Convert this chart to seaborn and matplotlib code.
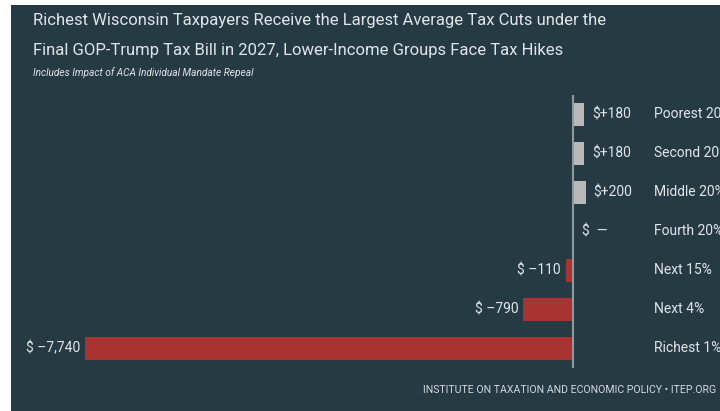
import matplotlib
matplotlib.use("Agg")
import matplotlib.pyplot as plt
import seaborn as sns
import pandas as pd
from matplotlib.patches import Rectangle

categories = ["Poorest 20%", "Second 20%", "Middle 20%", "Fourth 20%", "Next 15%", "Next 4%", "Richest 1%"]
values = [180, 180, 200, 0, -110, -790, -7740]
value_labels = ["$+180", "$+180", "$+200", "$  \u2014", "$ \u2013110", "$ \u2013790", "$ \u20137,740"]
title_lines = ["Richest Wisconsin Taxpayers Receive the Largest Average Tax Cuts under the",
               "Final GOP-Trump Tax Bill in 2027, Lower-Income Groups Face Tax Hikes"]
subtitle = "Includes Impact of ACA Individual Mandate Repeal"
footer = "INSTITUTE ON TAXATION AND ECONOMIC POLICY \u2022 ITEP.ORG"

BG = "#263a44"
RED = "#a83331"
GRAY = "#b9b9b9"
TXT = "#e2e5e7"

sns.set_theme(style="white")
plt.rcParams['font.family'] = ['Roboto', 'DejaVu Sans']

df = pd.DataFrame({"category": categories, "value": values})
colors = [GRAY if v >= 0 else RED for v in values]

fig = plt.figure(figsize=(7.2, 4.11), dpi=100, facecolor="white")
fig.patches.append(Rectangle((11/720, 0), 1 - 11/720, 1 - 5/411, transform=fig.transFigure,
                             facecolor=BG, edgecolor="none", zorder=-10))

ax = fig.add_axes([85/720, 1 - 367.5/411, 635/720, 272.5/411])
ax.set_facecolor("none")
sns.barplot(data=df, x="value", y="category", hue="category", palette=colors,
            legend=False, orient="h", width=0.59, ax=ax, saturation=1,
            linewidth=0, edgecolor="none")
ax.set_xlim(-7740, 2332)
ax.set_ylim(6.5, -0.5)
ax.axvline(0, color="#8d999f", lw=1.5, zorder=5)
for s in ax.spines.values():
    s.set_visible(False)
ax.set_xticks([])
ax.set_yticks([])
ax.set_xlabel("")
ax.set_ylabel("")

px = 7740 / 488.0
FS = 10
for i, (v, lab, cat) in enumerate(zip(values, value_labels, categories)):
    if v > 0:
        ax.text(v + 8 * px, i, lab, ha="left", va="center", color=TXT, fontsize=FS)
    elif v == 0:
        ax.text(9 * px, i, lab, ha="left", va="center", color=TXT, fontsize=FS)
    else:
        ax.text(v - 5 * px, i, lab, ha="right", va="center", color=TXT, fontsize=FS)
    ax.text((654 - 85) / 635, i, cat, ha="left", va="center", color=TXT, fontsize=FS,
            transform=ax.get_yaxis_transform())

fig.text(33/720, 1 - 21/411, title_lines[0], ha="left", va="center", color=TXT, fontsize=12)
fig.text(33/720, 1 - 51/411, title_lines[1], ha="left", va="center", color=TXT, fontsize=12)
fig.text(33/720, 1 - 73/411, subtitle, ha="left", va="center", color=TXT, fontsize=7.3, style="italic")
fig.text(716/720, 1 - 390/411, footer, ha="right", va="center", color="#d5d9db", fontsize=7.6)

fig.savefig("out.png", dpi=100, facecolor=fig.get_facecolor())
